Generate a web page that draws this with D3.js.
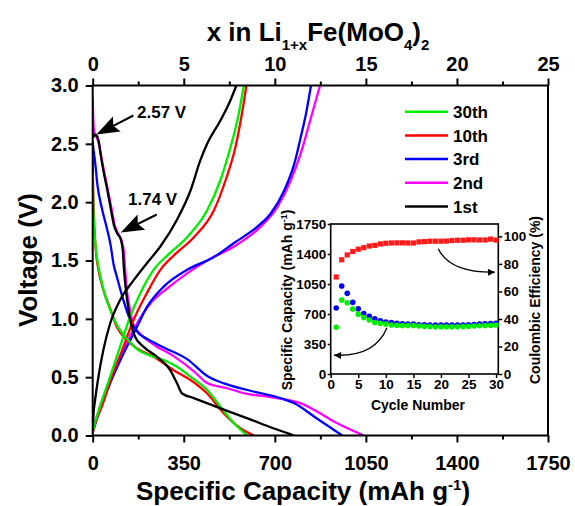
<!DOCTYPE html>
<html><head><meta charset="utf-8">
<script src="https://cdn.jsdelivr.net/npm/d3@7/dist/d3.min.js"></script>
<style>
body{margin:0;background:#fff}
svg{display:block}
text{font-family:"Liberation Sans",Arial,sans-serif;font-weight:bold;fill:#000}
</style>
</head><body>
<svg id="c" width="575" height="506"></svg>
<script>
// ---------------- DATA ----------------
// main plot: [capacity (mAh/g), voltage (V)]
const dis1st  = [[2,2.555],[9,2.578],[17,2.565],[24,2.51],[30,2.42],[41,2.27],[54,2.13],[69,1.95],[82,1.80],[95,1.73],[108,1.68],[116,1.58],[119,1.46],[123,1.35],[129,1.22],[138,1.076],[147,0.96],[163,0.847],[196,0.76],[247,0.675],[298,0.56],[324,0.447],[344,0.36],[389,0.32],[491,0.233],[595,0.147],[697,0.06],[775,0]];
const ch1st   = [[0,0.05],[3,0.18],[9,0.30],[22,0.504],[41,0.733],[67,0.96],[105,1.16],[157,1.33],[208,1.476],[260,1.62],[324,1.85],[376,2.10],[414,2.36],[440,2.50],[491,2.70],[530,2.876],[552,3.0]];
const dis2nd  = [[0,2.9],[2,2.72],[6,2.6],[14,2.56],[24,2.5],[32,2.4],[44,2.26],[57,2.12],[72,1.95],[85,1.80],[98,1.73],[111,1.67],[120,1.57],[124,1.45],[131,1.25],[144,1.076],[157,0.947],[183,0.87],[234,0.78],[311,0.68],[389,0.55],[440,0.45],[517,0.405],[595,0.356],[672,0.333],[749,0.305],[800,0.276],[852,0.219],[929,0.118],[1042,0]];
const ch2nd   = [[0,0.03],[10,0.12],[28,0.247],[67,0.476],[118,0.733],[170,0.96],[221,1.13],[286,1.26],[363,1.39],[440,1.50],[543,1.62],[646,1.79],[710,1.96],[762,2.19],[800,2.42],[833,2.676],[858,2.876],[874,3.0]];
const dis3rd  = [[0,2.52],[2,2.47],[9,2.35],[18,2.15],[35,1.95],[54,1.78],[69,1.63],[80,1.47],[93,1.36],[118,1.16],[144,0.99],[176,0.876],[208,0.83],[273,0.755],[363,0.655],[440,0.51],[504,0.447],[595,0.39],[723,0.319],[775,0.276],[852,0.161],[959,0]];
const ch3rd   = [[0,0.03],[10,0.1],[28,0.22],[67,0.447],[118,0.70],[170,0.93],[208,1.10],[273,1.276],[363,1.42],[466,1.53],[543,1.65],[633,1.79],[685,1.905],[736,2.10],[775,2.33],[800,2.56],[820,2.76],[839,3.0]];
const dis10th = [[0,2.4],[1,2.2],[3,2.0],[6,1.8],[10,1.65],[15,1.52],[22,1.42],[41,1.247],[67,1.09],[93,0.93],[131,0.82],[170,0.747],[234,0.675],[311,0.56],[376,0.476],[440,0.36],[504,0.19],[569,0.06],[620,0]];
const ch10th  = [[0,0.02],[12,0.12],[35,0.247],[73,0.50],[118,0.76],[157,0.99],[208,1.22],[260,1.42],[315,1.55],[389,1.70],[466,1.93],[511,2.19],[549,2.475],[569,2.70],[591,3.0]];
const dis30th = [[0,2.25],[2,2.0],[5,1.8],[10,1.65],[18,1.5],[28,1.38],[45,1.22],[70,1.06],[100,0.92],[135,0.82],[170,0.74],[220,0.685],[273,0.647],[330,0.58],[376,0.504],[440,0.39],[491,0.247],[543,0.105],[594,0]];
const ch30th  = [[0,0.03],[10,0.12],[28,0.247],[67,0.504],[105,0.76],[144,1.02],[183,1.22],[234,1.42],[290,1.55],[363,1.70],[440,1.93],[491,2.19],[530,2.475],[556,2.70],[581,3.0]];

const legendLabels = ["30th","10th","3rd","2nd","1st"];
const xTicks    = [0,350,700,1050,1400,1750];
const xTopTicks = [0,5,10,15,20,25];
const yTicks    = [0,0.5,1.0,1.5,2.0,2.5,3.0];

// inset
const cycles = [1,2,3,4,5,6,7,8,9,10,11,12,13,14,15,16,17,18,19,20,21,22,23,24,25,26,27,28,29,30];
const dischargeCap = [770,1027,941,836,760,706,672,645,620,607,599,591,585,583,582,574,573,572,571,571,570,570,571,572,575,578,582,585,588,591];
const chargeCap    = [545,863,832,758,698,659,630,600,591,583,572,568,566,565,565,560,556,553,552,552,551,551,552,553,556,560,563,566,569,572];
const coulombicEff = [70.5,83,86.5,89,90.7,91.8,93,93.5,94.5,95,95.2,95.3,95.3,95.2,95.2,96,96.2,96.5,96.5,96.5,96.6,97,97.2,97.2,97.5,97.5,97.4,97.4,98,97.3];
const insetXTicks = [0,5,10,15,20,25,30];
const insetYTicks = [0,350,700,1050,1400,1750];
const insetY2Ticks = [0,20,40,60,80,100];

// ---------------- STYLE ----------------
const colors = {"30th":"#00ee00","10th":"#ff0000","3rd":"#0000ff","2nd":"#ff00ff","1st":"#000000"};
const series = [
  {k:"2nd", d:[dis2nd, ch2nd]},
  {k:"3rd", d:[dis3rd, ch3rd]},
  {k:"10th",d:[dis10th,ch10th]},
  {k:"30th",d:[dis30th,ch30th]},
  {k:"1st", d:[dis1st, ch1st]}
];

const svg = d3.select("#c");
const M = {l:92.7, r:548, t:85.5, b:435.5};
const x = d3.scaleLinear().domain([0,1750]).range([M.l,M.r]);
const xTop = d3.scaleLinear().domain([0,25]).range([M.l,M.r]);
const y = d3.scaleLinear().domain([0,3]).range([M.b,M.t]);

function styleAxis(g, fs){
  g.select(".domain").remove();
  g.selectAll("line").attr("stroke","#000").attr("stroke-width",2);
  g.selectAll("text").attr("font-size",fs).attr("font-family",'"Liberation Sans",Arial,sans-serif').attr("font-weight","bold").attr("fill","#000");
}

svg.append("clipPath").attr("id","clip").append("rect")
  .attr("x",M.l).attr("y",M.t-2).attr("width",M.r-M.l).attr("height",M.b-M.t+2);

// minor ticks
svg.append("g").attr("transform",`translate(0,${M.b})`)
  .call(d3.axisBottom(x).tickValues([175,525,875,1225,1575]).tickSize(4).tickFormat(""))
  .call(g=>styleAxis(g,0));
svg.append("g").attr("transform",`translate(0,${M.t})`)
  .call(d3.axisTop(xTop).tickValues([2.5,7.5,12.5,17.5,22.5]).tickSize(4).tickFormat(""))
  .call(g=>styleAxis(g,0));
// major axes
svg.append("g").attr("transform",`translate(0,${M.b})`)
  .call(d3.axisBottom(x).tickValues(xTicks).tickSize(7).tickPadding(13).tickFormat(d3.format("d")))
  .call(g=>styleAxis(g,20));
svg.append("g").attr("transform",`translate(0,${M.t})`)
  .call(d3.axisTop(xTop).tickValues(xTopTicks).tickSize(7).tickPadding(8).tickFormat(d3.format("d")))
  .call(g=>styleAxis(g,20));
svg.append("g").attr("transform",`translate(${M.l},0)`)
  .call(d3.axisLeft(y).tickValues(yTicks).tickSize(7).tickPadding(7).tickFormat(d3.format(".1f")))
  .call(g=>styleAxis(g,20));

// curves
const line = d3.line().x(d=>x(d[0])).y(d=>y(d[1])).curve(d3.curveMonotoneX);
const cg = svg.append("g").attr("clip-path","url(#clip)");
series.forEach(s=>{
  s.d.forEach(arr=>{
    cg.append("path").attr("d",line(arr)).attr("fill","none")
      .attr("stroke",colors[s.k]).attr("stroke-width",2.3).attr("stroke-linejoin","round");
  });
});

// frame
svg.append("rect").attr("x",M.l).attr("y",M.t).attr("width",M.r-M.l).attr("height",M.b-M.t)
  .attr("fill","none").attr("stroke","#000").attr("stroke-width",2);

// axis titles
svg.append("text").attr("x",303).attr("y",500).attr("text-anchor","middle").attr("font-size",26)
  .html('Specific Capacity (mAh g<tspan dy="-10" font-size="15">-1</tspan><tspan dy="10">)</tspan>');
svg.append("text").attr("transform","translate(37,260) rotate(-90)").attr("text-anchor","middle").attr("font-size",26)
  .text("Voltage (V)");
svg.append("text").attr("x",318).attr("y",41).attr("text-anchor","middle").attr("font-size",26)
  .html('x in Li<tspan dy="9" font-size="15">1+x</tspan><tspan dy="-9">Fe(MoO</tspan><tspan dy="9" font-size="15">4</tspan><tspan dy="-9">)</tspan><tspan dy="9" font-size="15">2</tspan>');

// legend
const lg = svg.append("g");
legendLabels.forEach((k,i)=>{
  const yy = 111.7 + i*23.7;
  lg.append("line").attr("x1",405).attr("x2",448).attr("y1",yy).attr("y2",yy)
    .attr("stroke",colors[k]).attr("stroke-width",2.5);
  lg.append("text").attr("x",453).attr("y",yy+6.3).attr("font-size",17).text(k);
});

// annotation arrows
function bigArrow(tip, tail, headLen, headW){
  const dx = tail[0]-tip[0], dy = tail[1]-tip[1];
  const L = Math.hypot(dx,dy), ux = dx/L, uy = dy/L;
  const bx = tip[0]+ux*headLen, by = tip[1]+uy*headLen;
  const nx = tip[0]+ux*(headLen-4), ny = tip[1]+uy*(headLen-4);
  svg.append("line").attr("x1",nx).attr("y1",ny).attr("x2",tail[0]).attr("y2",tail[1])
    .attr("stroke","#000").attr("stroke-width",2);
  svg.append("path").attr("d",`M${tip[0]},${tip[1]}L${bx-uy*headW},${by+ux*headW}L${nx},${ny}L${bx+uy*headW},${by-ux*headW}Z`)
    .attr("fill","#000");
}
const tipA = [x(14), y(2.58)];
bigArrow(tipA, [tipA[0]+37, tipA[1]-19], 23, 8.5);
svg.append("text").attr("x",137).attr("y",118).attr("font-size",17).text("2.57 V");
const tipB = [x(108), y(1.74)];
bigArrow(tipB, [tipB[0]+36, tipB[1]-18], 23, 8.5);
svg.append("text").attr("x",128).attr("y",205).attr("font-size",17).text("1.74 V");

// ---------------- INSET ----------------
const I = {l:330.7, r:498.3, t:224, b:374};
const xi = d3.scaleLinear().domain([0,30.4]).range([I.l,I.r]);
const yi = d3.scaleLinear().domain([0,1750]).range([I.b,I.t]);
const yi2 = d3.scaleLinear().domain([0,109]).range([I.b,I.t]);

svg.append("g").attr("transform",`translate(0,${I.b})`)
  .call(d3.axisBottom(xi).tickValues(insetXTicks).tickSize(4).tickPadding(1).tickFormat(d3.format("d")))
  .call(g=>styleAxis(g,13.5)).call(g=>g.selectAll("line").attr("stroke-width",1.5));
svg.append("g").attr("transform",`translate(${I.l},0)`)
  .call(d3.axisLeft(yi).tickValues(insetYTicks).tickSize(3).tickPadding(1.5).tickFormat(d3.format("d")))
  .call(g=>styleAxis(g,13.5)).call(g=>g.selectAll("line").attr("stroke-width",1.5));
svg.append("g").attr("transform",`translate(${I.r},0)`)
  .call(d3.axisRight(yi2).tickValues(insetY2Ticks).tickSize(4).tickPadding(1.5).tickFormat(d3.format("d")))
  .call(g=>styleAxis(g,13.5)).call(g=>g.selectAll("line").attr("stroke-width",1.5));
svg.append("rect").attr("x",I.l).attr("y",I.t).attr("width",I.r-I.l).attr("height",I.b-I.t)
  .attr("fill","none").attr("stroke","#000").attr("stroke-width",1.6);

// markers
svg.append("g").selectAll("rect").data(cycles).join("rect")
  .attr("x",d=>xi(d)-2.6).attr("y",(d,i)=>yi2(coulombicEff[i])-2.6)
  .attr("width",5.2).attr("height",5.2).attr("fill","#ff1a1a");
svg.append("g").selectAll("circle").data(cycles).join("circle")
  .attr("cx",d=>xi(d)).attr("cy",(d,i)=>yi(dischargeCap[i])).attr("r",2.8).attr("fill","#0000ff");
svg.append("g").selectAll("circle").data(cycles).join("circle")
  .attr("cx",d=>xi(d)).attr("cy",(d,i)=>yi(chargeCap[i])).attr("r",2.8).attr("fill","#00ee00");

// inset titles
svg.append("text").attr("x",418).attr("y",410).attr("text-anchor","middle").attr("font-size",14).text("Cycle Number");
svg.append("text").attr("transform","translate(292,300) rotate(-90)").attr("text-anchor","middle").attr("font-size",14)
  .html('Specific Capacity (mAh g<tspan dy="-5" font-size="9">-1</tspan><tspan dy="5">)</tspan>');
svg.append("text").attr("transform","translate(540,300) rotate(-90)").attr("text-anchor","middle").attr("font-size",14)
  .text("Coulombic Efficiency (%)");

// inset curved arrows
svg.append("defs").append("marker").attr("id","ah").attr("viewBox","0 0 10 10").attr("refX",10).attr("refY",5)
  .attr("markerWidth",10).attr("markerHeight",7).attr("markerUnits","userSpaceOnUse").attr("orient","auto")
  .append("path").attr("d","M0,0L10,5L0,10Z").attr("fill","#000");
const a1s = [xi(19.5), yi2(91)], a1e = [xi(29.8), yi2(74)];
svg.append("path").attr("d",`M${a1s[0]},${a1s[1]}Q${a1s[0]+12},${a1e[1]+1} ${a1e[0]},${a1e[1]}`)
  .attr("fill","none").attr("stroke","#000").attr("stroke-width",1.3).attr("marker-end","url(#ah)");
const a2s = [xi(10.2), yi(540)], a2e = [xi(0.6), yi(220)];
svg.append("path").attr("d",`M${a2s[0]},${a2s[1]}Q${a2s[0]-12},${a2e[1]+2} ${a2e[0]},${a2e[1]}`)
  .attr("fill","none").attr("stroke","#000").attr("stroke-width",1.3).attr("marker-end","url(#ah)");
</script>
</body></html>
